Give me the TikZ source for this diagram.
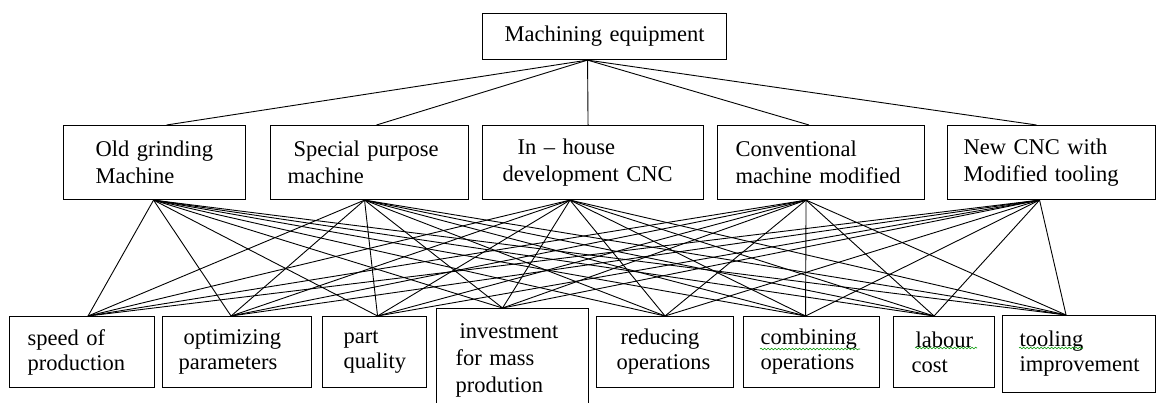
\documentclass[tikz,border=0pt]{standalone}
\usepackage{fontspec}
\setmainfont{Liberation Serif}
\usetikzlibrary{decorations.pathmorphing}

\begin{document}
\begin{tikzpicture}[
  x = 1pt, y = -1pt,
  every node/.style = {font=\fontsize{22.5}{27}\selectfont},
  % boxes, placed by their top left corner
  box/.style  = {draw, line width=1.1pt, anchor=north west, align=left,
                 inner xsep=0pt, inner ysep=0pt},
  pad/.style  = {execute at begin node={\leftskip=#1pt}},
  mid/.style  = {box, minimum height=74pt},
  low/.style  = {box, minimum height=71pt, font=\fontsize{22.5}{25}\selectfont},
  % lines
  link/.style  = {line width=0.9pt},
  squig/.style = {draw=green!60!black, line width=0.6pt, decorate,
                  decoration={snake, amplitude=0.8pt, segment length=3.5pt}},
]
\fill[white] (0,0) rectangle (1157,402);
\clip (0,0) rectangle (1157,402);

%% Goal
\node[box, minimum width=244pt, text width=244pt, minimum height=46pt,
      align=center] (mach) at (482,13) {Machining equipment};

%% Alternatives
\node[mid, minimum width=182pt, text width=182pt, pad=32] (oldg) at (63,125)  {Old grinding\\Machine};
\node[mid, minimum width=198pt, text width=198pt, pad=17] (spec) at (270,125) {\hspace{6pt}Special purpose\\machine};
\node[mid, minimum width=221pt, text width=221pt, pad=20] (inh)  at (482,125) {\hspace{15pt}In – house\\development CNC};
\node[mid, minimum width=207pt, text width=207pt, pad=18] (conv) at (717,125) {Conventional\\machine modified};
\node[mid, minimum width=208pt, text width=208pt, pad=16] (newc) at (947,125) {New CNC with\\Modified tooling};

%% Criteria
\node[low, minimum width=145pt, text width=145pt, pad=18] (speed)   at (9,316)   {speed of\\production};
\node[low, minimum width=149pt, text width=149pt, pad=16] (optim)   at (162,316) {\hspace{5pt}optimizing\\parameters};
\node[low, minimum width=104pt, text width=104pt, pad=21] (qual)    at (322,316) {part\\quality};
\node[box, minimum width=152pt, text width=152pt, pad=19, minimum height=104pt,
      font=\fontsize{22.5}{27}\selectfont] (invest) at (436,308) {\hspace{4pt}investment\\for mass\\prodution};
\node[low, minimum width=137pt, text width=137pt, pad=20] (reduce)  at (596,316) {\hspace{4pt}reducing\\operations};
\node[low, minimum width=136pt, text width=136pt, pad=17] (combine) at (743,316) {combining\\operations};
\node[low, minimum width=101pt, text width=101pt, pad=18] (labour)  at (893,316) {\hspace{4pt}labour\\cost};
\node[box, minimum width=153pt, text width=153pt, pad=17, minimum height=77pt,
      font=\fontsize{22.5}{25}\selectfont] (tooling) at (1002,315) {tooling\\improvement};

%% Goal to alternatives
\foreach \m/\dm in {oldg/12, spec/7, inh/-5, conv/-12, newc/-15}
  \draw[link] ([xshift=-17pt]mach.south) -- ([xshift=\dm pt]\m.north);

%% Alternatives to criteria
\foreach \m/\dm in {oldg/-1, spec/-5, inh/-23, conv/-15, newc/-12}
  \foreach \f/\df in {speed/6, optim/-6, qual/3, invest/-10, reduce/0,
                      combine/-6, labour/-10, tooling/-13}
    \draw[link] ([xshift=\dm pt]\m.south) -- ([xshift=\df pt]\f.north);

%% spell-check marks
\draw[squig] (760,349) -- (860,349);
\draw[squig] (915,348) -- (977,348);
\draw[squig] (1019,348) -- (1083,348);

\end{tikzpicture}
\end{document}
